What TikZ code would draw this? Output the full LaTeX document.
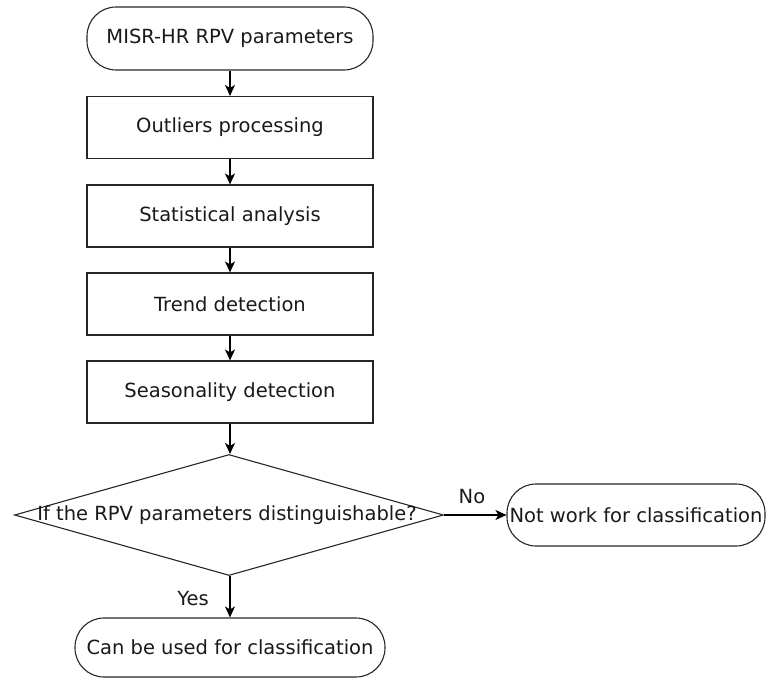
\documentclass[tikz,border=0pt]{standalone}
\usepackage{fontspec}
\setmainfont{DejaVu Sans}
\usetikzlibrary{arrows.meta,shapes.geometric}
\begin{document}
\begin{tikzpicture}[x=1pt,y=-1pt,
  every node/.style={font=\fontsize{19.5}{23}\selectfont, text=black!90},
  proc/.style={draw=black!85, line width=1.1pt, minimum width=286pt, minimum height=62pt, inner sep=0pt},
  term/.style={draw=black!85, line width=1.1pt, rounded corners=29pt, inner sep=0pt},
  decis/.style={draw=black!85, line width=1.1pt, diamond, aspect=3.55, minimum width=429pt, minimum height=121pt, inner sep=0pt},
  flow/.style={draw=black, line width=1.1pt, -{Stealth[length=11pt,width=10pt,inset=3pt]}},
  lbl/.style={inner sep=0pt}]
\useasboundingbox (0,0) rectangle (766,679);
\node[term, minimum width=286pt, minimum height=63pt] (start) at (230,38.5) {MISR-HR RPV parameters};
\node[proc] (p1) at (230,127.5) {Outliers processing};
\node[proc] (p2) at (230,216) {Statistical analysis};
\node[proc] (p3) at (230,304) {Trend detection};
\node[proc] (p4) at (230,392) {Seasonality detection};
\node[decis] (dec) at (229,515) {};
\node[inner sep=0pt] (dectext) at (227,515) {If the RPV parameters distinguishable?};
\node[term, minimum width=258pt, minimum height=62pt] (no) at (636,515) {Not work for classification};
\node[term, minimum width=310pt, minimum height=59pt] (yes) at (230,647.5) {Can be used for classification};
\draw[flow] (start) -- (p1);
\draw[flow] (p1) -- (p2);
\draw[flow] (p2) -- (p3);
\draw[flow] (p3) -- (p4);
\draw[flow] (p4.south) -- (p4.south |- dec.north);
\draw[flow] (dec.east) -- (no.west);
\draw[flow] (dec.south -| yes.north) -- (yes.north);
\node[lbl] (nolbl) at (472,497) {No};
\node[lbl] (yeslbl) at (193,599) {Yes};
\end{tikzpicture}
\end{document}
